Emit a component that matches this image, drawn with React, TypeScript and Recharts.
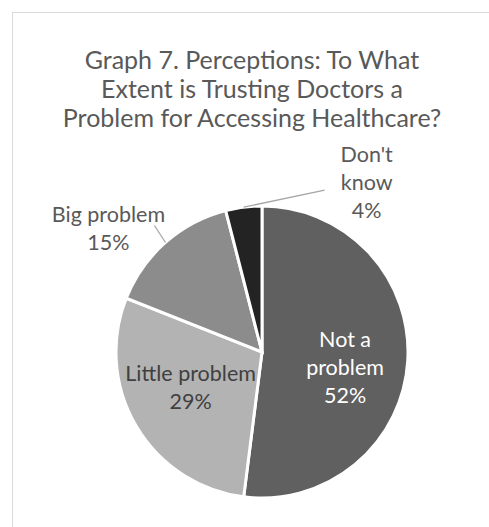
import { PieChart, Pie, Cell } from 'recharts'

const categories = ['Not a problem', 'Little problem', 'Big problem', "Don't know"]
const shares = [52, 29, 15, 4]
const labelLines = [['Not a', 'problem'], ['Little problem'], ['Big problem'], ["Don't", 'know']]
const titleLines = [
  'Graph 7. Perceptions: To What',
  'Extent is Trusting Doctors a',
  'Problem for Accessing Healthcare?',
]

const COLORS = ['#606060', '#b3b3b3', '#8c8c8c', '#232323']
const FONT = 'Lato, "Open Sans", sans-serif'
const RAD = Math.PI / 180

const data = categories.map((name, i) => ({ name, value: shares[i], lines: labelLines[i] }))

// label placement per slice: inside ones sit on a radius, outside ones get a leader line
const labelStyle = [
  { inside: true, r: 0.57, shift: [0, 10], color: '#ffffff' },
  { inside: true, r: 0.56, shift: [-1, -7], color: '#404040' },
  { inside: false, lineTo: [-11, -17], text: [-57, -14], color: '#595959' },
  { inside: false, lineTo: [81, -17], text: [123, -25], color: '#595959' },
]

function renderLabel(props: any) {
  const { cx, cy, midAngle, outerRadius, index, payload } = props
  const st: any = labelStyle[index]
  const lines: string[] = [...payload.lines, `${payload.value}%`]
  const lh = 28
  let x: number
  let y: number
  let line = null
  if (st.inside) {
    x = cx + outerRadius * st.r * Math.cos(-midAngle * RAD) + st.shift[0]
    y = cy + outerRadius * st.r * Math.sin(-midAngle * RAD) + st.shift[1]
  } else {
    const ox = cx + outerRadius * Math.cos(-midAngle * RAD)
    const oy = cy + outerRadius * Math.sin(-midAngle * RAD)
    line = (
      <line x1={ox} y1={oy} x2={ox + st.lineTo[0]} y2={oy + st.lineTo[1]} stroke="#a6a6a6" strokeWidth={1.3} />
    )
    x = ox + st.text[0]
    y = oy + st.text[1]
  }
  const top = y - ((lines.length - 1) * lh) / 2
  return (
    <g key={`lbl-${index}`}>
      {line}
      <text x={x} y={top} fill={st.color} textAnchor="middle" dominantBaseline="central" fontSize={21.5} fontFamily={FONT}>
        {lines.map((t, i) => (
          <tspan key={i} x={x} y={top + i * lh}>
            {t}
          </tspan>
        ))}
      </text>
    </g>
  )
}

export default function App() {
  return (
    <div style={{ position: 'fixed', left: 0, top: 0, width: 489, height: 527, overflow: 'hidden', background: '#fff' }}>
      <div
        style={{
          position: 'absolute',
          left: 12,
          top: 12,
          width: 520,
          height: 560,
          border: '1px solid #d9d9d9',
          boxSizing: 'border-box',
        }}
      />
      <div
        style={{
          position: 'absolute',
          left: 0,
          top: 45,
          width: 504,
          textAlign: 'center',
          fontFamily: FONT,
          fontSize: 25,
          lineHeight: '29px',
          color: '#595959',
        }}
      >
        {titleLines.map((t) => (
          <div key={t}>{t}</div>
        ))}
      </div>
      <div style={{ position: 'absolute', left: 0, top: 0 }}>
        <PieChart width={489} height={527} margin={{ top: 0, right: 0, bottom: 0, left: 0 }}>
          <Pie
            data={data}
            dataKey="value"
            cx={262}
            cy={352}
            outerRadius={146}
            startAngle={90}
            endAngle={-270}
            stroke="#ffffff"
            strokeWidth={3}
            labelLine={false}
            label={renderLabel}
            isAnimationActive={false}
          >
            {data.map((entry, index) => (
              <Cell key={`cell-${index}`} fill={COLORS[index]} />
            ))}
          </Pie>
        </PieChart>
      </div>
    </div>
  )
}
